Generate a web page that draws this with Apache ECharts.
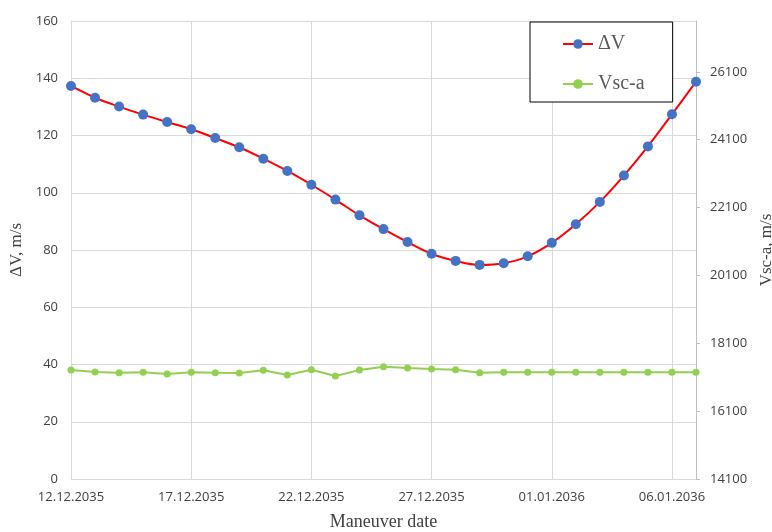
<!DOCTYPE html>
<html>
<head>
<meta charset="utf-8">
<script src="https://cdn.jsdelivr.net/npm/echarts@6/dist/echarts.min.js"></script>
<style>html,body{margin:0;padding:0;background:#fff}#c{width:772px;height:532px}</style>
</head>
<body>
<div id="c"></div>
<script>
const dates = ['12.12.2035','13.12.2035','14.12.2035','15.12.2035','16.12.2035','17.12.2035','18.12.2035','19.12.2035','20.12.2035','21.12.2035','22.12.2035','23.12.2035','24.12.2035','25.12.2035','26.12.2035','27.12.2035','28.12.2035','29.12.2035','30.12.2035','31.12.2035','01.01.2036','02.01.2036','03.01.2036','04.01.2036','05.01.2036','06.01.2036','07.01.2036'];
const deltaV = [137.3,133.2,130.1,127.3,124.7,122.2,119.1,115.9,111.9,107.6,102.8,97.6,92.1,87.3,82.8,78.7,76.2,74.8,75.4,77.8,82.5,89.0,96.8,106.0,116.2,127.4,138.8];
const vsca = [17313,17254,17233,17245,17195,17245,17233,17225,17304,17166,17322,17136,17310,17410,17372,17342,17322,17233,17245,17245,17245,17245,17245,17245,17245,17245,17245];

const chart = echarts.init(document.getElementById('c'));
const gridColor = '#d9d9d9';
const tickFont = {fontFamily:'Open Sans, sans-serif', fontSize:13, color:'#404040'};
chart.setOption({
  animation:false,
  grid:{left:71,right:76,top:21,bottom:53, outerBoundsMode:'none', containLabel:false},
  legend:{
    left:530, top:22, orient:'vertical',
    borderColor:'#000', borderWidth:1, backgroundColor:'#fff',
    padding:[12,28,8,32], itemGap:20, itemWidth:30, itemHeight:12,
    textStyle:{fontFamily:'Liberation Serif, serif', fontSize:20, color:'#595959'},
    data:['ΔV','Vsc-a']
  },
  xAxis:{
    type:'category', data:dates, boundaryGap:false,
    name:'Maneuver date', nameLocation:'middle', nameGap:34,
    nameTextStyle:{fontFamily:'Liberation Serif, serif', fontSize:18, color:'#404040'},
    axisLine:{lineStyle:{color:gridColor,width:1}},
    axisTick:{show:false},
    axisLabel:Object.assign({interval:4, margin:12}, tickFont),
    splitLine:{show:true, interval:4, lineStyle:{color:gridColor,width:1}}
  },
  yAxis:[{
    type:'value', min:0, max:160, interval:20,
    name:'ΔV, m/s', nameLocation:'middle', nameGap:46, nameRotate:90,
    nameTextStyle:{fontFamily:'Liberation Serif, serif', fontSize:17, color:'#404040'},
    axisLine:{show:true, lineStyle:{color:gridColor}},
    axisTick:{show:false},
    axisLabel:Object.assign({margin:13}, tickFont),
    splitLine:{lineStyle:{color:gridColor,width:1}}
  },{
    type:'value', min:14100, max:27600, interval:2000, position:'right',
    name:'Vsc-a, m/s', nameLocation:'middle', nameGap:58, nameRotate:90,
    nameTextStyle:{fontFamily:'Liberation Serif, serif', fontSize:17, color:'#404040'},
    axisLine:{show:true, lineStyle:{color:'#bfbfbf'}},
    axisTick:{show:true, length:4, lineStyle:{color:'#bfbfbf'}},
    axisLabel:Object.assign({margin:14, showMaxLabel:false, formatter:function(v){return String(v);}}, tickFont),
    splitLine:{show:false}
  }],
  series:[{
    name:'ΔV', type:'line', data:deltaV, yAxisIndex:0, smooth:0.35,
    symbol:'circle', symbolSize:10,
    lineStyle:{color:'#ff0000', width:2},
    itemStyle:{color:'#4472c4'}, z:3
  },{
    name:'Vsc-a', type:'line', data:vsca, yAxisIndex:1,
    symbol:'circle', symbolSize:7,
    lineStyle:{color:'#92d050', width:2},
    itemStyle:{color:'#92d050'}, z:2
  }]
});
</script>
</body>
</html>
